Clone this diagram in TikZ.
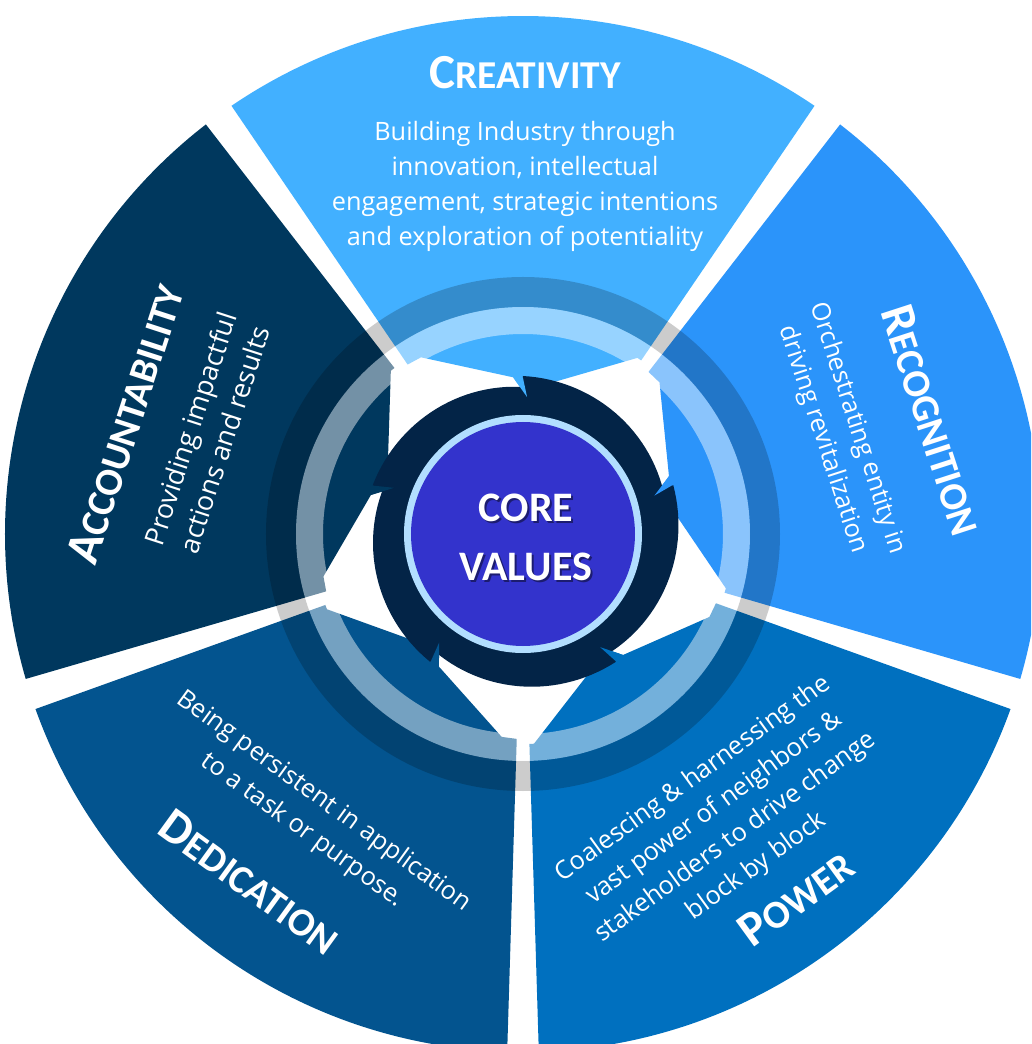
\documentclass[tikz,border=0pt]{standalone}
\usepackage{fontspec}
\setmainfont{Open Sans}
\newfontfamily\headfont{Carlito}
\definecolor{mycreat}{rgb}{0.26,0.69,1.0}
\definecolor{myrecog}{rgb}{0.17,0.58,0.98}
\definecolor{mypower}{rgb}{0,0.44,0.75}
\definecolor{mydedic}{rgb}{0.01,0.33,0.56}
\definecolor{myaccount}{rgb}{0,0.22,0.37}
\definecolor{mynavy}{rgb}{0.01,0.14,0.28}
\definecolor{mycore}{rgb}{0.2,0.2,0.8}
\definecolor{mycorering}{rgb}{0.7,0.87,1.0}
% one petal of the wheel: #1 = centre angle, #2 = colour
\newcommand{\petal}[2]{\fill[#2] ({#1+34.25}:518) arc[start angle={#1+34.25}, end angle={#1-34.25}, radius=518] -- ({#1-34.25}:210) -- ({#1-33}:210) -- ({#1}:143) -- ({#1-1.7}:137) -- ({#1+3.6}:157) -- ({#1+30}:204) -- ({#1+34.25}:205) -- cycle;}
\newcommand{\petaltip}[2]{\fill[#2] ({#1+3.6}:157) -- ({#1-1.7}:137) -- ({#1}:156) -- cycle;}
% one step of the dark gear, running clockwise from #1
\newcommand{\gearpart}[1]{\fill[mynavy] plot[domain=0:72.5, samples=30, variable=\t] ({#1-\t}:{158-11*\t/72}) -- ({#1-72.5}:110) arc[start angle={#1-72.5}, end angle={#1}, radius=110] -- cycle;}
\newcommand{\valuehead}[2]{{\headfont\bfseries\fontsize{49}{52}\selectfont #1\fontsize{39.5}{42}\selectfont #2}}

\begin{document}
\begin{tikzpicture}[x=1pt, y=1pt, body/.style={text=white, align=center, font=\fontsize{25.3}{36}\selectfont}, head/.style={text=white, inner sep=0pt}]
	\useasboundingbox (-523,-510) rectangle (508,534);
	\clip (-523,-510) rectangle (508,534);

	% Draw the five petals
	\petal{90}{mycreat}
	\petal{162}{myaccount}
	\petal{234}{mydedic}
	\petal{306}{mypower}
	\petal{18}{myrecog}

	% Draw the see-through rings
	\fill[black, opacity=0.2, even odd rule] (0,0) circle (257) (0,0) circle (227);
	\fill[white, opacity=0.45, even odd rule] (0,0) circle (227) (0,0) circle (200);

	% Draw the dark gear and the petal tips on it
	\gearpart{90} \gearpart{162} \gearpart{234} \gearpart{306} \gearpart{18}
	\petaltip{90}{mycreat}
	\petaltip{162}{myaccount}
	\petaltip{234}{mydedic}
	\petaltip{306}{mypower}
	\petaltip{18}{myrecog}

	% Draw the core
	\fill[mycorering] (0,0) circle (119);
	\fill[mycore] (0,0) circle (112);
	\node[text=black, opacity=0.45, align=center, font=\headfont\bfseries\fontsize{42}{59}\selectfont] (core-shadow) at (5,-5) {CORE\\VALUES};
	\node[text=white, align=center, font=\headfont\bfseries\fontsize{42}{59}\selectfont] (core) at (3,-3) {CORE\\VALUES};

	% Label the petals
	\node[head] (creat-head) at (2,461) {\valuehead{C}{REATIVITY}};
	\node[body, font=\fontsize{25.3}{35}\selectfont] (creat-text) at (2,348) {Building Industry through\\innovation, intellectual\\engagement, strategic intentions\\and exploration of potentiality};
	\node[head, rotate=72] (account-head) at (-398,110) {\valuehead{A}{CCOUNTABILITY}};
	\node[body, rotate=72, font=\fontsize{27}{36}\selectfont] (account-text) at (-316,100) {Providing impactful\\actions and results};
	\node[head, rotate=-72] (recog-head) at (409,114) {\valuehead{R}{ECOGNITION}};
	\node[body, rotate=-72] (recog-text) at (317,100) {Orchestrating entity in\\driving revitalization};
	\node[body, rotate=-36] (dedic-text) at (-210,-282) {Being persistent in application\\to a task or purpose.};
	\node[head, rotate=-36] (dedic-head) at (-273,-348) {\valuehead{D}{EDICATION}};
	\node[body, rotate=36] (power-text) at (202,-289) {Coalescing \& harnessing the\\vast power of neighbors \&\\stakeholders to drive change\\block by block};
	\node[head, rotate=36] (power-head) at (273,-364) {\valuehead{P}{OWER}};
\end{tikzpicture}
\end{document}
